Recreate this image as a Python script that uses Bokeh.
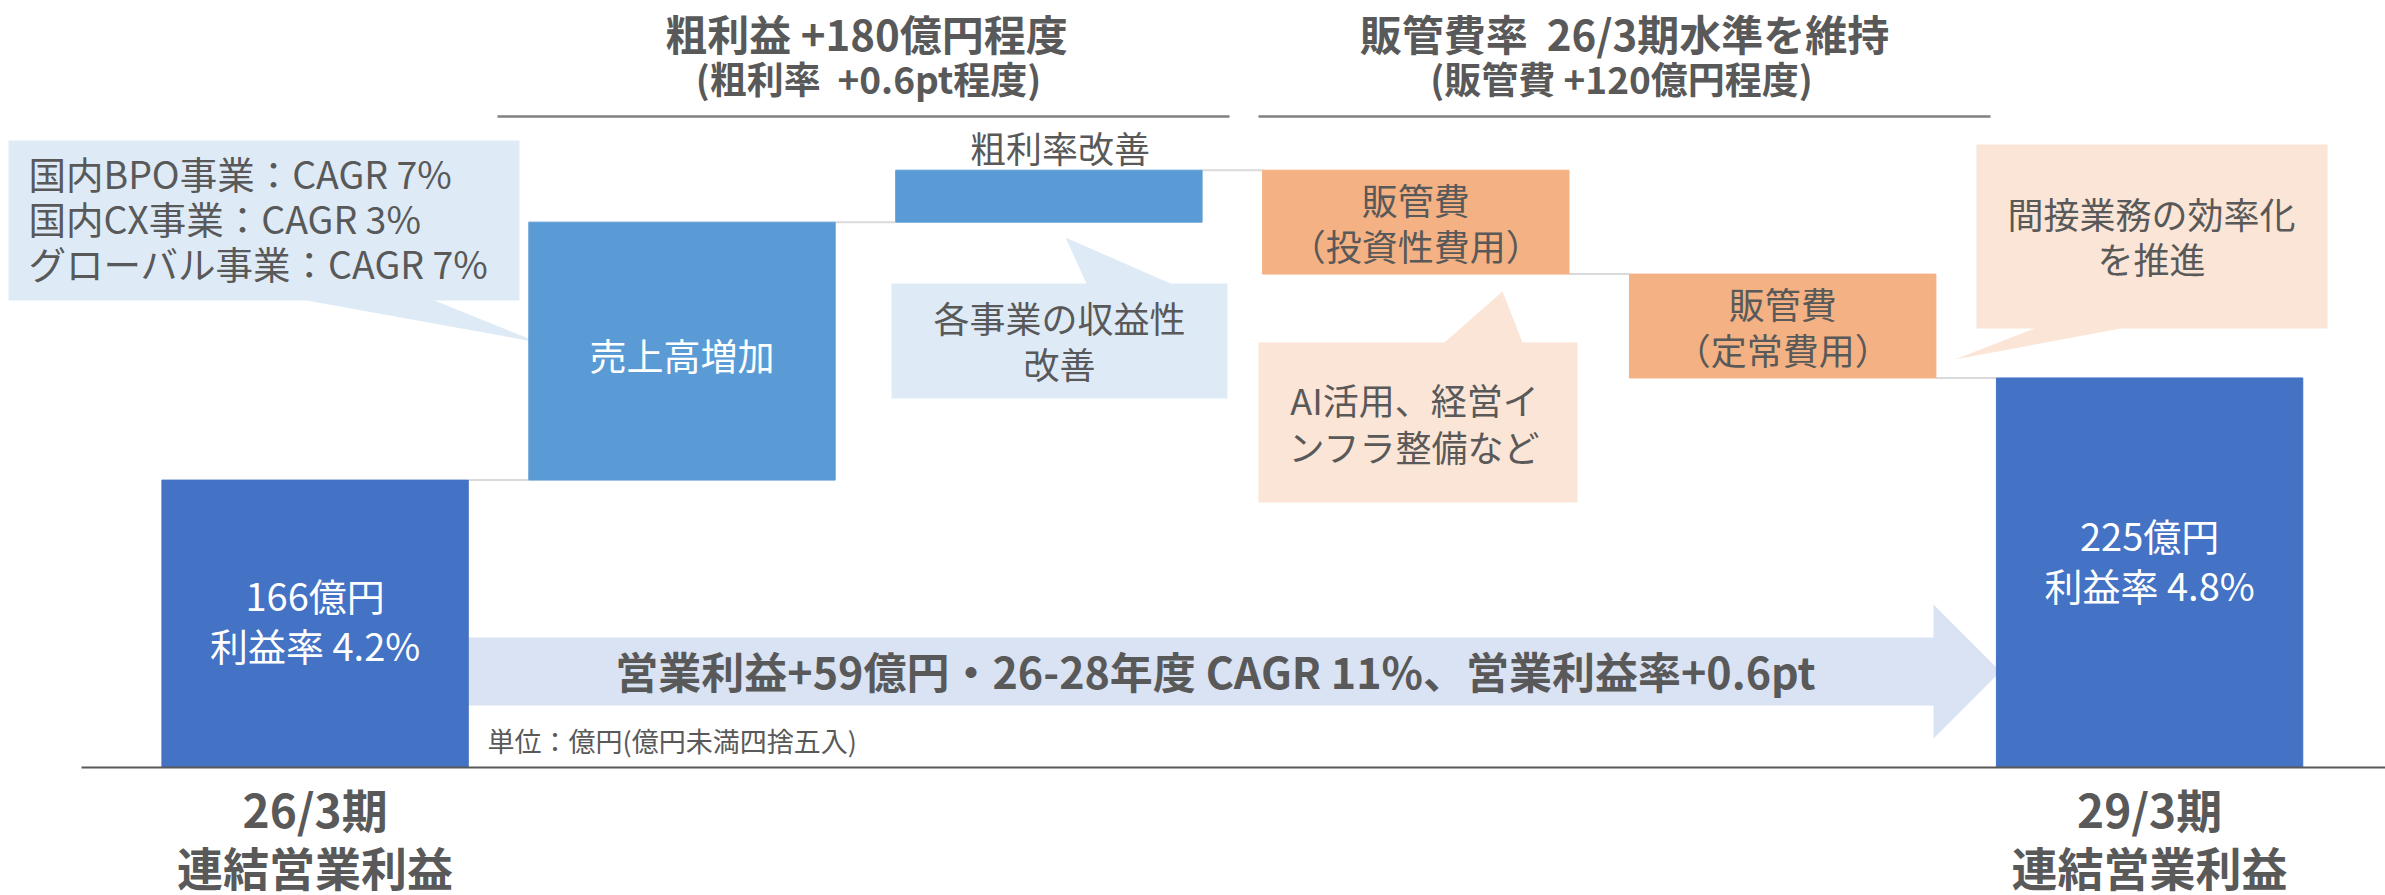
from bokeh.plotting import figure
from bokeh.models import Range1d
from bokeh.embed import file_html
from bokeh.resources import INLINE
from bokeh.core.properties import value

FONT = "Noto Sans CJK JP"
GRAY = "#595959"

# ---------------- data ----------------
stage_names = ["26/3期 連結営業利益", "売上高増加", "粗利率改善", "販管費（投資性費用）", "販管費（定常費用）", "29/3期 連結営業利益"]
start_value = 166          # 億円
step_changes = [149, 30, -60, -60]
end_value = 225            # 億円
start_margin = 4.2         # %
end_margin = 4.8           # %
bar_colors = ["#4472C4", "#5B9BD5", "#5B9BD5", "#F4B183", "#F4B183", "#4472C4"]

category_line1 = ["26/3期", "29/3期"]
category_line2 = ["連結営業利益", "連結営業利益"]

header_titles = ["粗利益 +180億円程度", "販管費率\u00a0\u00a026/3期水準を維持"]
header_subtitles = ["(粗利率\u00a0\u00a0+0.6pt程度)", "(販管費 +120億円程度)"]

callout_sales = ["国内BPO事業：CAGR 7%", "国内CX事業：CAGR 3%", "グローバル事業：CAGR 7%"]
callout_margin = ["各事業の収益性", "改善"]
callout_invest = ["AI活用、経営イ", "ンフラ整備など"]
callout_eff = ["間接業務の効率化", "を推進"]
arrow_text = "営業利益+59億円・26-28年度 CAGR 11%、営業利益率+0.6pt"
unit_note = "単位：億円(億円未満四捨五入)"

# ---------------- waterfall geometry from data ----------------
idx = list(range(len(stage_names)))
bottoms, tops, levels = [0], [start_value], [start_value]
running = start_value
for c in step_changes:
    new = running + c
    bottoms.append(min(running, new))
    tops.append(max(running, new))
    running = new
    levels.append(running)
bottoms.append(0)
tops.append(end_value)

W, H = 2385, 895
K = 1.7313                   # px per 億円
BASE_Y = 767                 # page y of value 0
Y_TOP, Y_BOT = BASE_Y / K, -(H - BASE_Y) / K
STEP, C0 = 366.9, 314.6      # px per stage, page x of first stage centre
X_L, X_R = -C0 / STEP, (W - C0) / STEP
BAR_W = 0.835

p = figure(width=W, height=H, output_backend="svg", toolbar_location=None,
           x_range=Range1d(X_L, X_R), y_range=Range1d(Y_BOT, Y_TOP),
           min_border=0, outline_line_color=None, background_fill_color="white",
           border_fill_color="white")
p.extra_x_ranges = {"px": Range1d(0, W)}
p.extra_y_ranges = {"px": Range1d(H, 0)}
p.axis.visible = False
p.grid.visible = False

PX = dict(x_range_name="px", y_range_name="px")

# arrow (behind everything)
p.patch(x=[468, 1933, 1933, 2000, 1933, 1933, 468],
        y=[637, 637, 604, 671, 738, 705, 705],
        fill_color="#DAE3F3", line_color=None, **PX)

# callouts
p.patch(x=[8, 519, 519, 434, 538, 306, 8], y=[140, 140, 300, 300, 342, 300, 300],
        fill_color="#DEEBF7", line_color=None, **PX)
p.patch(x=[891, 1086, 1065, 1170, 1227, 1227, 891], y=[283, 283, 237, 283, 283, 398, 398],
        fill_color="#DEEBF7", line_color=None, **PX)
p.patch(x=[1258, 1444, 1502, 1522, 1577, 1577, 1258], y=[342, 342, 291, 342, 342, 502, 502],
        fill_color="#FBE5D6", line_color=None, **PX)
p.patch(x=[1976, 2327, 2327, 2120, 1954, 2034, 1976], y=[144, 144, 328, 328, 359, 328, 328],
        fill_color="#FBE5D6", line_color=None, **PX)

# connectors
half = BAR_W / 2
p.segment(x0=[i + half for i in idx[:-1]], x1=[i + 1 - half for i in idx[:-1]],
          y0=levels, y1=levels, line_color="#D9D9D9", line_width=2)

# bars
p.vbar(x=idx, bottom=bottoms, top=tops, width=BAR_W, fill_color=bar_colors,
       line_color=bar_colors, line_width=1)

# baseline
p.segment(x0=[81], x1=[W], y0=[0], y1=[0], line_color=GRAY, line_width=2,
          x_range_name="px")

# header underlines
p.segment(x0=[497, 1258], x1=[1229, 1990], y0=[116, 116], y1=[116, 116],
          line_color="#808080", line_width=2.5, **PX)

common = dict(text_font=value(FONT), text_baseline="middle")

# headers
p.text(x=[866, 1624], y=[32, 32], text=header_titles, text_align="center",
       text_font_size="42px", text_font_style="bold", text_color=GRAY, **common, **PX)
p.text(x=[868, 1621], y=[77, 77], text=header_subtitles, text_align="center",
       text_font_size="37px", text_font_style="bold", text_color=GRAY, **common, **PX)

# bar labels (positioned from bar data)
def mid(i):
    return (bottoms[i] + tops[i]) / 2

bx, by, bt = [], [], []
for i, val, m, shift in [(0, start_value, start_margin, 4), (5, end_value, end_margin, 13)]:
    c = mid(i) + shift / K
    bx += [i, i]
    by += [c + 25 / K, c - 25 / K]
    bt += [f"{val}億円", f"利益率 {m}%"]
p.text(x=bx, y=by, text=bt, text_align="center", text_font_size="38px",
       text_color="white", **common)

p.text(x=[1], y=[mid(1) - 4 / K], text=[stage_names[1]], text_align="center",
       text_font_size="37px", text_color="white", **common)
p.text(x=[2.03], y=[tops[2] + 23 / K], text=[stage_names[2]], text_align="center",
       text_font_size="36px", text_color=GRAY, **common)
ox, oy, ot = [], [], []
for i in (3, 4):
    name, sub = stage_names[i].split("（")
    c = mid(i)
    ox += [i, i]
    oy += [c + 23 / K, c - 23 / K]
    ot += [name, "（" + sub]
p.text(x=ox, y=oy, text=ot, text_align="center", text_font_size="36px",
       text_color=GRAY, **common)

# category labels below baseline
p.text(x=[0, 5], y=[-40 / K, -40 / K], text=category_line1, text_align="center",
       text_font_size="46px", text_font_style="bold", text_color=GRAY, **common)
p.text(x=[0, 5], y=[-98 / K, -98 / K], text=category_line2, text_align="center",
       text_font_size="46px", text_font_style="bold", text_color=GRAY, **common)

# callout texts
p.text(x=[28, 28, 28], y=[172, 217, 262], text=callout_sales, text_align="left",
       text_font_size="37.5px", text_color=GRAY, **common, **PX)
p.text(x=[1059, 1059], y=[316, 362], text=callout_margin, text_align="center",
       text_font_size="36px", text_color=GRAY, **common, **PX)
p.text(x=[1414, 1414], y=[398, 445], text=callout_invest, text_align="center",
       text_font_size="36px", text_color=GRAY, **common, **PX)
p.text(x=[2151, 2151], y=[212, 257], text=callout_eff, text_align="center",
       text_font_size="36px", text_color=GRAY, **common, **PX)

# arrow text & unit note
p.text(x=[1215], y=[669], text=[arrow_text], text_align="center",
       text_font_size="43px", text_font_style="bold", text_color=GRAY, **common, **PX)
p.text(x=[487], y=[740], text=[unit_note], text_align="left",
       text_font_size="27px", text_color=GRAY, **common, **PX)

open("out.html", "w").write(file_html(p, INLINE))
